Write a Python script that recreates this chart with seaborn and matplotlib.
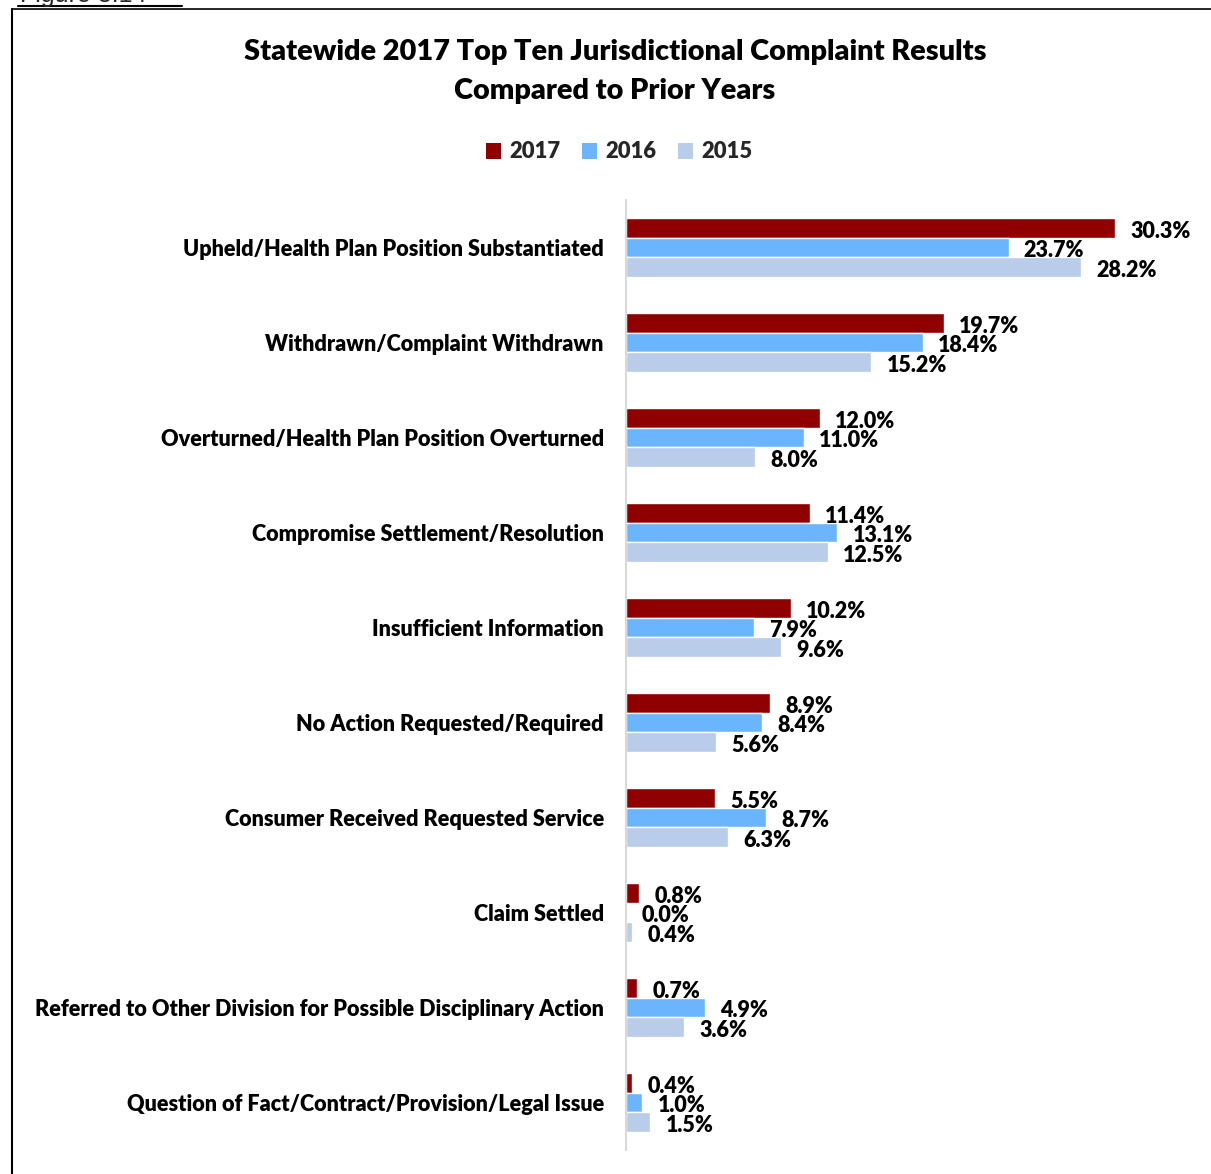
import matplotlib
matplotlib.use("Agg")
import matplotlib.pyplot as plt
from matplotlib.lines import Line2D
from matplotlib.patches import Patch
import pandas as pd
import seaborn as sns

categories = [
    "Upheld/Health Plan Position Substantiated",
    "Withdrawn/Complaint Withdrawn",
    "Overturned/Health Plan Position Overturned",
    "Compromise Settlement/Resolution",
    "Insufficient Information",
    "No Action Requested/Required",
    "Consumer Received Requested Service",
    "Claim Settled",
    "Referred to Other Division for Possible Disciplinary Action",
    "Question of Fact/Contract/Provision/Legal Issue",
]
years = ["2017", "2016", "2015"]
values_2017 = [30.3, 19.7, 12.0, 11.4, 10.2, 8.9, 5.5, 0.8, 0.7, 0.4]
values_2016 = [23.7, 18.4, 11.0, 13.1, 7.9, 8.4, 8.7, 0.0, 4.9, 1.0]
values_2015 = [28.2, 15.2, 8.0, 12.5, 9.6, 5.6, 6.3, 0.4, 3.6, 1.5]
colors = ["#910000", "#6BB5FF", "#B9CCEA"]

df = pd.DataFrame({
    "category": categories * 3,
    "year": [y for y in years for _ in categories],
    "value": values_2017 + values_2016 + values_2015,
})

sns.set_theme(style="white")
plt.rcParams["font.family"] = ["Lato", "DejaVu Sans"]
plt.rcParams["font.weight"] = "heavy"
WEIGHT = "heavy"

W, H = 1211, 1174
fig = plt.figure(figsize=(W / 100, H / 100), dpi=100)
ax = fig.add_axes([626 / W, 24 / H, 565 / W, 950 / H])

sns.barplot(data=df, y="category", x="value", hue="year", hue_order=years,
            order=categories, palette=colors, orient="h", width=0.63,
            saturation=1, ax=ax, legend=False)

ax.set_xlim(0, 35)
ax.set_ylim(9.5, -0.5)
ax.set_xlabel("")
ax.set_ylabel("")
ax.set_xticks([])
ax.tick_params(axis="y", length=0, pad=16, labelsize=15.6, labelcolor="black")
for lbl in ax.get_yticklabels():
    lbl.set_fontweight(WEIGHT)
    lbl.set_y(lbl.get_position()[1])
for side in ["top", "right", "bottom"]:
    ax.spines[side].set_visible(False)
ax.spines["left"].set_color("#D9D9D9")
ax.spines["left"].set_linewidth(1.5)

for container in ax.containers:
    anns = ax.bar_label(container, labels=[f"{v:.1f}%" for v in container.datavalues],
                        padding=11, fontsize=15.5, fontweight=WEIGHT, color="black")
    for a in anns:
        a.xyann = (a.xyann[0], -2.5)

fig.text(615 / W, 1 - 52 / H, "Statewide 2017 Top Ten Jurisdictional Complaint Results",
         ha="center", va="center", fontsize=20.8, fontweight=WEIGHT, color="black")
fig.text(615 / W, 1 - 91 / H, "Compared to Prior Years",
         ha="center", va="center", fontsize=20.8, fontweight=WEIGHT, color="black")

handles = [Patch(facecolor=c, edgecolor="none") for c in colors]
fig.legend(handles, years, loc="center", bbox_to_anchor=(619 / W, 1 - 152 / H),
           ncol=3, frameon=False, prop={"weight": WEIGHT, "size": 15.8},
           handlelength=0.7, handleheight=0.7, handletextpad=0.35, columnspacing=1.0)

# frame around the chart area
fig.add_artist(Line2D([12 / W, 12 / W], [0, 1 - 9 / H], color="black", lw=1.5,
                      transform=fig.transFigure))
fig.add_artist(Line2D([12 / W, 1], [1 - 9 / H, 1 - 9 / H], color="black", lw=1.2,
                      transform=fig.transFigure))
# caption above the frame
fig.text(20 / W, 1 - 7 / H, "Figure 8.14", ha="left", va="bottom", fontsize=18,
         family="Liberation Sans", fontweight="normal")
fig.add_artist(Line2D([18 / W, 182 / W], [1 - 6 / H, 1 - 6 / H], color="black", lw=1.5,
                      transform=fig.transFigure))

fig.savefig("out.png", dpi=100, facecolor="white")
